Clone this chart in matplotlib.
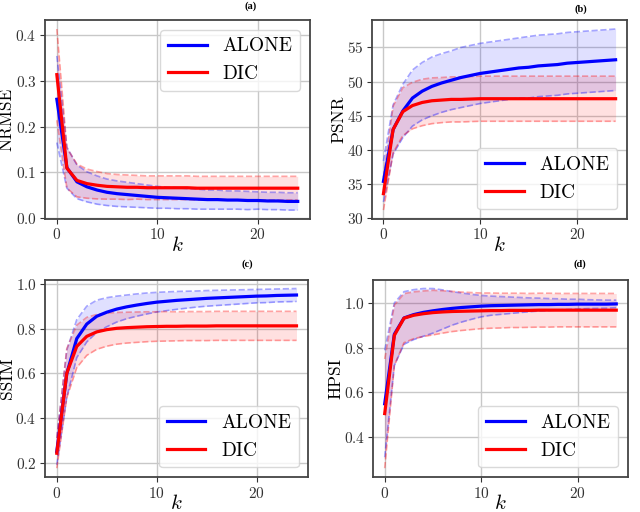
import numpy as np
import matplotlib
matplotlib.use("Agg")
import matplotlib.pyplot as plt

plt.rcParams['font.family'] = 'cmr10'
plt.rcParams['mathtext.fontset'] = 'cm'
plt.rcParams['axes.formatter.use_mathtext'] = True

k = list(range(25))

nrmse_alone_mean = [0.260, 0.110, 0.079, 0.068, 0.061, 0.056, 0.053, 0.051, 0.049, 0.047, 0.045, 0.044, 0.043,
                    0.042, 0.041, 0.040, 0.040, 0.039, 0.039, 0.038, 0.038, 0.037, 0.037, 0.036, 0.036]
nrmse_alone_std = [0.095, 0.045, 0.037, 0.033, 0.031, 0.029, 0.028, 0.027, 0.026, 0.025, 0.024, 0.023, 0.023,
                   0.022, 0.022, 0.021, 0.021, 0.020, 0.020, 0.020, 0.019, 0.019, 0.019, 0.019, 0.019]
nrmse_dic_mean = [0.314, 0.109, 0.082, 0.075, 0.0715, 0.069, 0.068, 0.067, 0.067, 0.066, 0.066, 0.066, 0.066,
                  0.066, 0.065, 0.065, 0.065, 0.065, 0.065, 0.065, 0.065, 0.065, 0.065, 0.065, 0.065]
nrmse_dic_std = [0.100, 0.044, 0.036, 0.032, 0.030, 0.028, 0.027, 0.027, 0.026, 0.026, 0.026, 0.026, 0.026,
                 0.026, 0.026, 0.026, 0.026, 0.026, 0.026, 0.026, 0.026, 0.026, 0.026, 0.026, 0.026]

psnr_alone_mean = [35.4, 43.0, 45.7, 47.6, 48.6, 49.3, 49.8, 50.2, 50.6, 50.9, 51.2, 51.4, 51.6,
                   51.8, 52.0, 52.1, 52.3, 52.4, 52.5, 52.7, 52.8, 52.9, 53.0, 53.1, 53.2]
psnr_alone_std = [3.0, 3.6, 3.9, 4.1, 4.2, 4.3, 4.3, 4.3, 4.4, 4.4, 4.4, 4.4, 4.4,
                  4.4, 4.4, 4.5, 4.5, 4.5, 4.5, 4.5, 4.5, 4.5, 4.5, 4.5, 4.5]
psnr_dic_mean = [33.6, 43.0, 45.6, 46.5, 46.95, 47.2, 47.3, 47.4, 47.4, 47.45, 47.5, 47.5, 47.5,
                 47.5, 47.5, 47.5, 47.5, 47.5, 47.5, 47.5, 47.5, 47.5, 47.5, 47.5, 47.5]
psnr_dic_std = [2.4, 3.4, 3.5, 3.4, 3.4, 3.35, 3.3, 3.3, 3.3, 3.3, 3.3, 3.3, 3.3,
                3.3, 3.3, 3.3, 3.3, 3.3, 3.3, 3.3, 3.3, 3.3, 3.3, 3.3, 3.3]

ssim_alone_mean = [0.250, 0.598, 0.755, 0.820, 0.855, 0.873, 0.887, 0.897, 0.905, 0.912, 0.918, 0.922, 0.926,
                   0.929, 0.932, 0.935, 0.937, 0.939, 0.941, 0.943, 0.945, 0.946, 0.948, 0.949, 0.950]
ssim_alone_std = [0.060, 0.105, 0.085, 0.080, 0.072, 0.065, 0.058, 0.053, 0.050, 0.047, 0.044, 0.042, 0.040,
                  0.038, 0.036, 0.035, 0.034, 0.033, 0.032, 0.031, 0.030, 0.030, 0.029, 0.029, 0.029]
ssim_dic_mean = [0.242, 0.600, 0.720, 0.765, 0.785, 0.795, 0.801, 0.804, 0.806, 0.808, 0.809, 0.810, 0.810,
                 0.811, 0.811, 0.811, 0.812, 0.812, 0.812, 0.812, 0.812, 0.812, 0.812, 0.812, 0.812]
ssim_dic_std = [0.067, 0.110, 0.095, 0.085, 0.078, 0.074, 0.071, 0.069, 0.068, 0.067, 0.066, 0.066, 0.065,
                0.065, 0.065, 0.065, 0.065, 0.065, 0.065, 0.065, 0.065, 0.065, 0.065, 0.065, 0.065]

hpsi_alone_mean = [0.548, 0.860, 0.933, 0.948, 0.958, 0.965, 0.971, 0.976, 0.980, 0.983, 0.986, 0.988, 0.989,
                   0.990, 0.991, 0.992, 0.993, 0.993, 0.994, 0.994, 0.995, 0.995, 0.995, 0.995, 0.996]
hpsi_alone_std = [0.240, 0.140, 0.118, 0.112, 0.107, 0.100, 0.088, 0.075, 0.065, 0.056, 0.048, 0.043, 0.040,
                  0.037, 0.034, 0.031, 0.029, 0.027, 0.025, 0.023, 0.022, 0.020, 0.019, 0.018, 0.017]
hpsi_dic_mean = [0.504, 0.855, 0.932, 0.945, 0.952, 0.957, 0.960, 0.962, 0.963, 0.964, 0.965, 0.966, 0.966,
                 0.967, 0.967, 0.967, 0.968, 0.968, 0.968, 0.968, 0.968, 0.968, 0.968, 0.968, 0.968]
hpsi_dic_std = [0.245, 0.135, 0.110, 0.105, 0.102, 0.100, 0.095, 0.090, 0.086, 0.083, 0.080, 0.079, 0.078,
                0.077, 0.077, 0.076, 0.076, 0.076, 0.075, 0.075, 0.075, 0.075, 0.075, 0.075, 0.075]

panels = [
    ("NRMSE", "(a)", nrmse_alone_mean, nrmse_alone_std, nrmse_dic_mean, nrmse_dic_std, "upper right",
     [0.070, 0.572, 0.414, 0.389], (251, 6)),
    ("PSNR", "(b)", psnr_alone_mean, psnr_alone_std, psnr_dic_mean, psnr_dic_std, "lower right",
     [0.581, 0.572, 0.399, 0.389], (581, 9)),
    ("SSIM", "(c)", ssim_alone_mean, ssim_alone_std, ssim_dic_mean, ssim_dic_std, "lower right",
     [0.070, 0.068, 0.412, 0.386], (247, 264)),
    ("HPSI", "(d)", hpsi_alone_mean, hpsi_alone_std, hpsi_dic_mean, hpsi_dic_std, "lower right",
     [0.583, 0.068, 0.398, 0.386], (580, 264)),
]

fig = plt.figure(figsize=(6.4, 5.12), dpi=100)
for ylabel, tag, am, asd, dm, dsd, loc, rect, tpos in panels:
    ax = fig.add_axes(rect)
    x = np.array(k)
    for mean, std, col in [(am, asd, 'blue'), (dm, dsd, 'red')]:
        mean = np.array(mean)
        std = np.array(std)
        ax.fill_between(x, mean - std, mean + std, color=col, alpha=0.12, linewidth=0)
        ax.plot(x, mean + std, '--', color=col, alpha=0.35, linewidth=1.2)
        ax.plot(x, mean - std, '--', color=col, alpha=0.35, linewidth=1.2)
    ax.plot(x, am, color='blue', linewidth=2.3, label='ALONE')
    ax.plot(x, dm, color='red', linewidth=2.3, label='DIC')
    ax.grid(True, color='#c8c8c8', linewidth=1.0)
    ax.set_axisbelow(True)
    for s in ax.spines.values():
        s.set_color('#444444')
        s.set_linewidth(1.3)
    ax.tick_params(labelsize=11, colors='#333333', labelcolor='#333333', pad=2.5)
    ax.set_xticks([0, 10, 20])
    ax.set_xlabel(r'$k$', fontsize=15, labelpad=-5)
    ax.set_ylabel(ylabel, fontsize=12.5, labelpad=0.5)
    ax.legend(loc=loc, fontsize=14, framealpha=0.8, edgecolor='#d0d0d0', fancybox=True)
    fig.text(tpos[0] / 640, 1 - tpos[1] / 512, tag, fontsize=7.5, family='Liberation Serif',
             ha='center', va='center', fontweight='bold')

fig.savefig('out.png', dpi=100)
